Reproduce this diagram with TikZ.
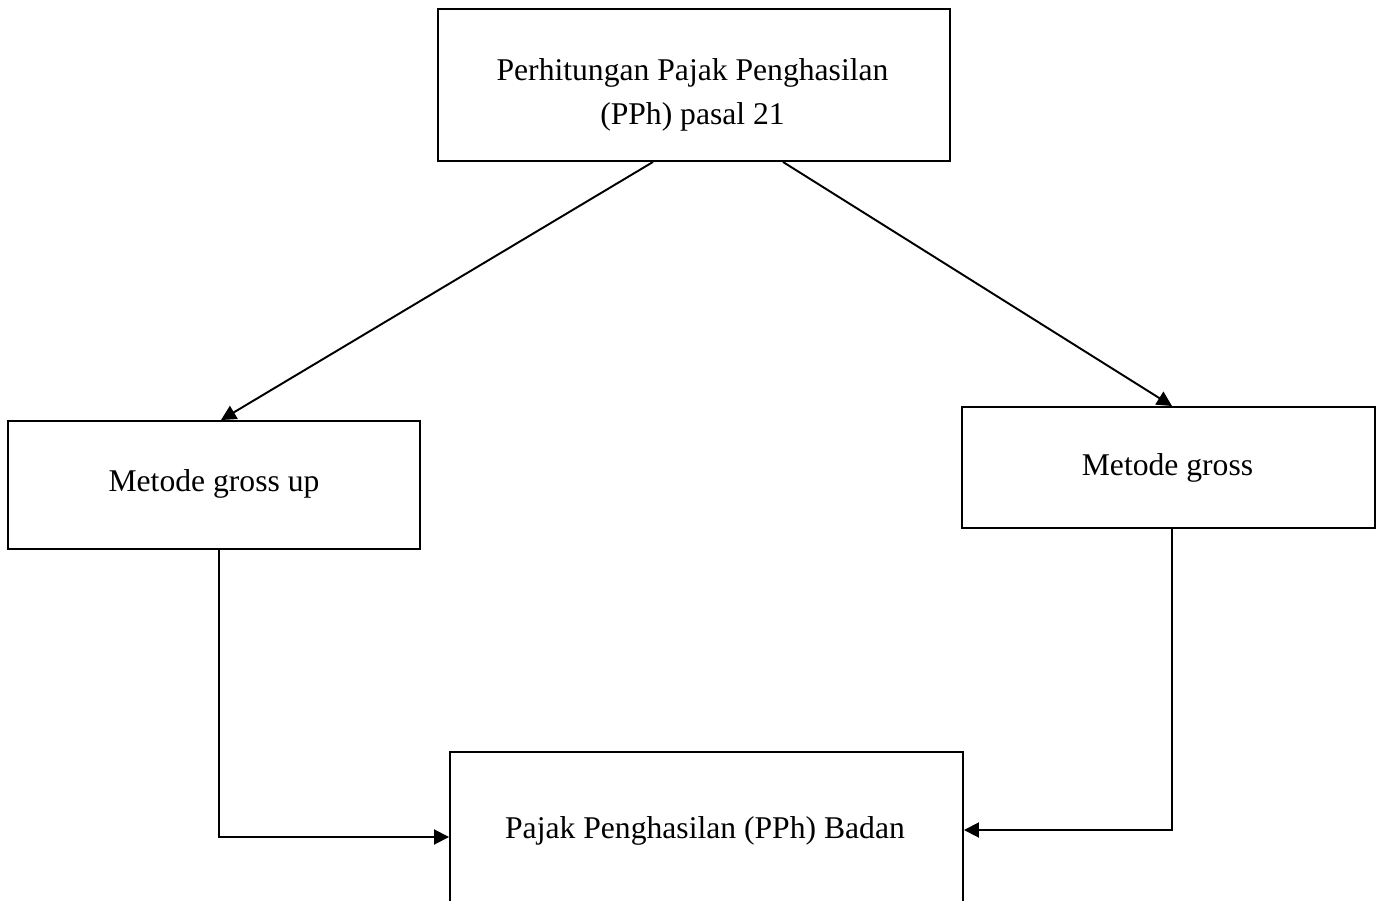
\documentclass[tikz,border=0pt]{standalone}
\usepackage{fontspec}
\setmainfont{Liberation Serif}
\usetikzlibrary{arrows.meta}
\begin{document}
\begin{tikzpicture}[x=1cm,y=1cm,
  box/.style={draw,line width=1.1pt,rectangle,inner sep=0pt},
  boxtext/.style={align=center,font=\fontsize{18}{25}\selectfont},
  arr/.style={line width=1.1pt,-{Triangle[length=0.3cm,width=0.3cm]}}]
\useasboundingbox (0,0) rectangle (27.68,-18.02);
\clip (0,0) rectangle (27.68,-18.02);
\node[box,minimum width=10.24cm,minimum height=3.04cm] (pph) at (13.88,-1.70) {};
\node[boxtext] (pphtext) at (13.85,-1.90) {Perhitungan Pajak Penghasilan\\(PPh) pasal 21};
\node[box,minimum width=8.24cm,minimum height=2.56cm] (grossup) at (4.28,-9.70) {};
\node[boxtext] (grossuptext) at (4.28,-9.68) {Metode gross up};
\node[box,minimum width=8.26cm,minimum height=2.42cm] (gross) at (23.37,-9.35) {};
\node[boxtext] (grosstext) at (23.35,-9.36) {Metode gross};
\node[box,minimum width=10.26cm,minimum height=3.36cm] (badan) at (14.13,-16.72) {};
\node[boxtext] (badantext) at (14.10,-16.62) {Pajak Penghasilan (PPh) Badan};
\draw[arr] ([xshift=-0.82cm]pph.south) -- ([xshift=0.14cm]grossup.north);
\draw[arr] ([xshift=1.78cm]pph.south) -- ([xshift=0.07cm]gross.north);
\draw[arr] ([xshift=0.10cm]grossup.south) |- ([yshift=-0.02cm]badan.west);
\draw[arr] ([xshift=0.07cm]gross.south) |- ([yshift=0.12cm]badan.east);
\end{tikzpicture}
\end{document}
